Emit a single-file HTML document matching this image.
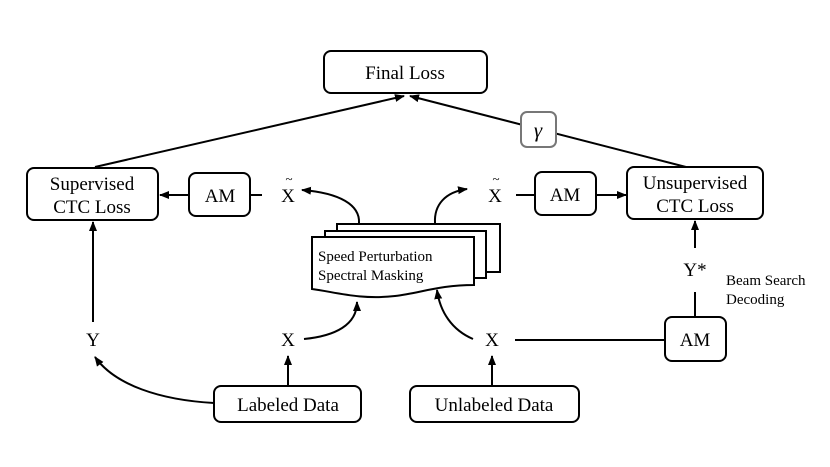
<!DOCTYPE html>
<html><head><meta charset="utf-8"><style>
html,body{margin:0;padding:0;background:#fff;}
svg{display:block;font-family:"Liberation Serif",serif;}
</style></head><body>
<svg width="830" height="467" viewBox="0 0 830 467" xmlns="http://www.w3.org/2000/svg">
<defs>
<marker id="a" markerWidth="10" markerHeight="10" refX="9" refY="5" orient="auto" markerUnits="userSpaceOnUse">
<path d="M0,1 L10,5 L0,9 Z" fill="#000"/></marker>
</defs>
<g fill="none" stroke="#000" stroke-width="2">
<!-- top lines -->
<line x1="95" y1="167" x2="404" y2="96" marker-end="url(#a)"/>
<line x1="686" y1="167" x2="410" y2="96" marker-end="url(#a)"/>
<rect x="324" y="51" width="163" height="42" rx="7"/>
<rect x="27" y="168" width="131" height="52" rx="7"/>
<rect x="189" y="173" width="61" height="43" rx="7"/>
<rect x="535" y="172" width="61" height="43" rx="7"/>
<rect x="627" y="167" width="136" height="52" rx="7"/>
<rect x="214" y="386" width="147" height="36" rx="7"/>
<rect x="410" y="386" width="169" height="36" rx="7"/>
<rect x="665" y="317" width="61" height="44" rx="7"/>
<!-- horizontal connectors -->
<line x1="189" y1="195" x2="160" y2="195" marker-end="url(#a)"/>
<line x1="250" y1="195" x2="262" y2="195"/>
<line x1="516" y1="195" x2="535" y2="195"/>
<line x1="596" y1="195" x2="626" y2="195" marker-end="url(#a)"/>
<line x1="515" y1="340" x2="665" y2="340"/>
<!-- verticals -->
<line x1="93" y1="322" x2="93" y2="222" marker-end="url(#a)"/>
<line x1="288" y1="386" x2="288" y2="356" marker-end="url(#a)"/>
<line x1="492" y1="386" x2="492" y2="356" marker-end="url(#a)"/>
<line x1="695" y1="317" x2="695" y2="292"/>
<line x1="695" y1="248" x2="695" y2="221" marker-end="url(#a)"/>
<!-- curves -->
<path d="M214,403 C160,400 115,385 95,357" marker-end="url(#a)"/>
<path d="M304,339 C335,336 357,325 357,302" marker-end="url(#a)"/>
<path d="M473,339 C452,330 440,312 437,290" marker-end="url(#a)"/>
<path d="M359,223 C360,205 340,193 302,190" marker-end="url(#a)"/>
<path d="M435,223 C434,205 445,192 467,189" marker-end="url(#a)"/>
<!-- doc stack -->
<path d="M337,231 L337,224 L500,224 L500,272 L486,272" fill="#fff"/>
<path d="M325,237 L325,231 L486,231 L486,278 L474,278" fill="#fff"/>
<path d="M312,237 L474,237 L474,285 C440,285 420,293 395,296 C360,300 335,292 312,289 Z" fill="#fff"/>
</g>
<rect x="521" y="112" width="35" height="35" rx="6" fill="#fff" stroke="#777" stroke-width="2"/>
<g font-size="19" text-anchor="middle" fill="#000">
<text x="405" y="79">Final Loss</text>
<text x="92" y="190">Supervised</text>
<text x="92" y="213">CTC Loss</text>
<text x="220" y="202">AM</text>
<text x="565" y="201">AM</text>
<text x="695" y="189">Unsupervised</text>
<text x="695" y="212">CTC Loss</text>
<text x="288" y="202">X</text>
<text x="289" y="183" font-size="13">~</text>
<text x="495" y="202">X</text>
<text x="496" y="183" font-size="13">~</text>
<text x="93" y="346">Y</text>
<text x="288" y="346">X</text>
<text x="492" y="346">X</text>
<text x="695" y="276">Y*</text>
<text x="695" y="346">AM</text>
<text x="288" y="411">Labeled Data</text>
<text x="494" y="411">Unlabeled Data</text>
<text x="538" y="137" font-style="italic" font-size="21">γ</text>
</g>
<g font-size="15" fill="#000">
<text x="318" y="261">Speed Perturbation</text>
<text x="318" y="280">Spectral Masking</text>
<text x="726" y="285">Beam Search</text>
<text x="726" y="304">Decoding</text>
</g>
</svg>
</body></html>
